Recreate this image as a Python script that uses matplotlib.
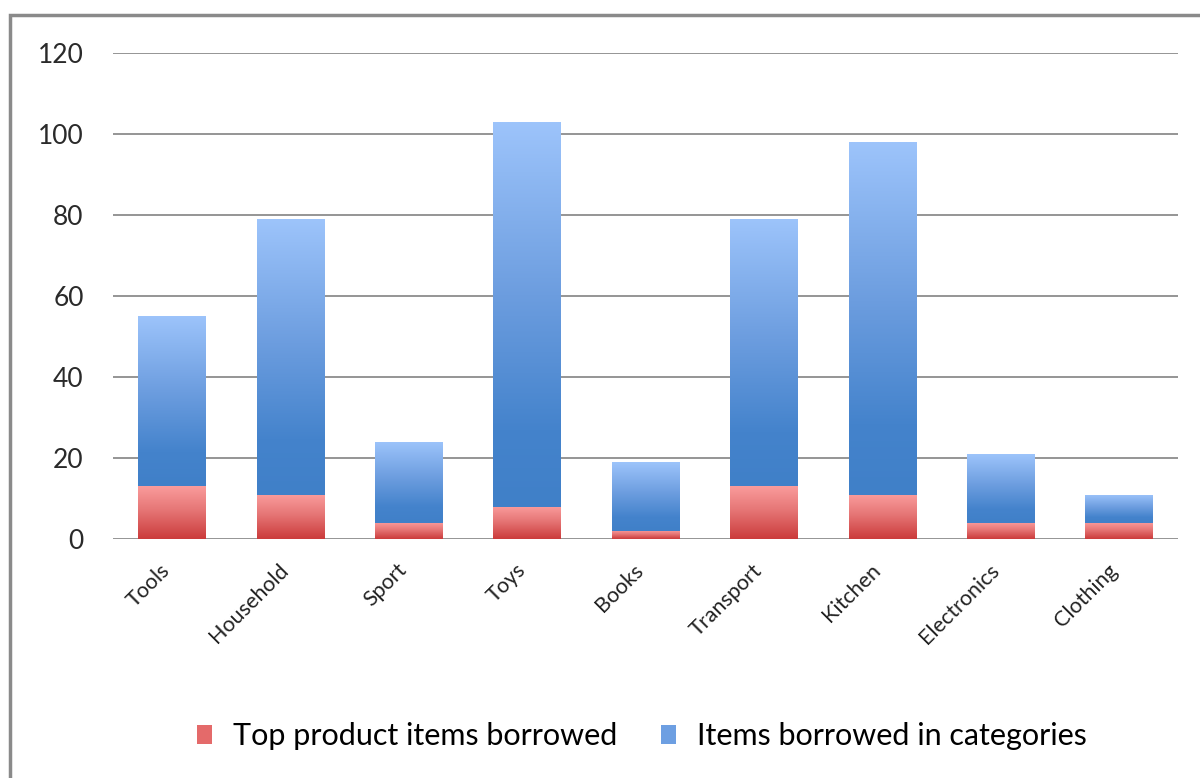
import numpy as np
import matplotlib.pyplot as plt
import matplotlib.transforms as mtransforms
from matplotlib.colors import LinearSegmentedColormap
from matplotlib.patches import Rectangle

categories = ["Tools", "Household", "Sport", "Toys", "Books",
              "Transport", "Kitchen", "Electronics", "Clothing"]
top_items = [13, 11, 4, 8, 2, 13, 11, 4, 4]
category_items = [42, 68, 20, 95, 17, 66, 87, 17, 7]
series_names = ["Top product items borrowed", "Items borrowed in categories"]

plt.rcParams["font.family"] = ["Lato", "DejaVu Sans"]

# gradients run from bottom (0) to top (1) of each bar
red_cmap = LinearSegmentedColormap.from_list(
    "red", [(0.0, "#cb3b3b"), (0.55, "#e67676"), (1.0, "#fa9c9c")])
blue_cmap = LinearSegmentedColormap.from_list(
    "blue", [(0.0, "#4080c8"), (0.2, "#4483cc"), (0.55, "#6c9ddf"), (1.0, "#9dc4fb")])


def gradient_bars(ax, bars, cmap):
    grad = np.linspace(0, 1, 256).reshape(-1, 1)
    for bar in bars:
        bar.set_facecolor("none")
        bar.set_edgecolor("none")
        x, y = bar.get_x(), bar.get_y()
        w, h = bar.get_width(), bar.get_height()
        im = ax.imshow(grad, cmap=cmap, origin="lower", aspect="auto",
                       extent=[x, x + w, y, y + h], zorder=3)
        im.set_clip_path(bar)


fig = plt.figure(figsize=(12, 7.78), dpi=100)
ax = fig.add_axes([0.094, 0.307, 0.888, 0.625])

x = np.arange(len(categories))
width = 0.57
b1 = ax.bar(x, top_items, width, zorder=3, label=series_names[0])
b2 = ax.bar(x, category_items, width, bottom=top_items, zorder=3, label=series_names[1])
gradient_bars(ax, b1, red_cmap)
gradient_bars(ax, b2, blue_cmap)

ax.set_xlim(-0.5, len(categories) - 0.5)
ax.set_ylim(0, 120)
ax.set_yticks(np.arange(0, 121, 20))
ax.yaxis.grid(True, color="#8c8c8c", linewidth=1.3, zorder=0)
ax.set_axisbelow(True)
for s in ax.spines.values():
    s.set_visible(False)
ax.tick_params(axis="both", length=0)
ax.tick_params(axis="y", labelsize=19, labelcolor="#2a2a2a", pad=21)
ax.set_xticks(x)
ax.set_xticklabels(categories, rotation=45, ha="right", rotation_mode="anchor",
                   fontsize=15.5, color="#222222")
ax.tick_params(axis="x", pad=15)
shift = mtransforms.ScaledTranslation(-12 / 100, 0, fig.dpi_scale_trans)
for lbl in ax.get_xticklabels():
    lbl.set_transform(lbl.get_transform() + shift)

handles = [Rectangle((0, 0), 1, 1, facecolor="#e46a6a"),
           Rectangle((0, 0), 1, 1, facecolor="#6d9fe2")]
fig.legend(handles, series_names, loc="center", bbox_to_anchor=(0.535, 0.054),
           ncol=2, frameon=False, fontsize=22, handlelength=0.5, handleheight=0.6,
           handletextpad=0.7, columnspacing=1.4)

# outer frame
fig.add_artist(Rectangle((0.008, -0.05), 1.2, 1.031, transform=fig.transFigure,
                         fill=False, edgecolor="#8a8a8a", linewidth=2.5))

fig.savefig("out.png", dpi=100)
